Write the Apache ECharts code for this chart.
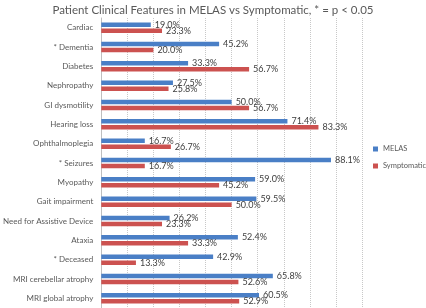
<!DOCTYPE html>
<html>
<head>
<meta charset="utf-8">
<script src="https://cdn.jsdelivr.net/npm/echarts@6/dist/echarts.min.js"></script>
<style>
  html, body { margin: 0; padding: 0; background: #fff; }
  #chart { width: 426px; height: 308px; }
</style>
</head>
<body>
<div id="chart"></div>
<script>
var categories = ['Cardiac', '* Dementia', 'Diabetes', 'Nephropathy', 'GI dysmotility', 'Hearing loss',
  'Ophthalmoplegia', '* Seizures', 'Myopathy', 'Gait impairment', 'Need for Assistive Device', 'Ataxia',
  '* Deceased', 'MRI cerebellar atrophy', 'MRI global atrophy']
var melas = [19.0, 45.2, 33.3, 27.5, 50.0, 71.4, 16.7, 88.1, 59.0, 59.5, 26.2, 52.4, 42.9, 65.8, 60.5]
var symptomatic = [23.3, 20.0, 56.7, 25.8, 56.7, 83.3, 26.7, 16.7, 45.2, 50.0, 23.3, 33.3, 13.3, 52.6, 52.9]

var chart = echarts.init(document.getElementById('chart'))

var label = {
  show: true,
  position: 'right',
  distance: 4,
  fontFamily: 'Lato',
  fontSize: 9,
  color: '#404040',
  formatter: function (p) { return p.value.toFixed(1) + '%' }
}

chart.setOption({
  animation: false,
  textStyle: { fontFamily: 'Lato' },
  title: {
    text: 'Patient Clinical Features in MELAS vs Symptomatic, * = p < 0.05',
    left: 'center',
    top: -1,
    textStyle: { fontFamily: 'Lato', fontSize: 11.5, fontWeight: 'normal', color: '#595959' }
  },
  legend: {
    orient: 'vertical',
    left: 368,
    top: 140,
    itemWidth: 5,
    itemHeight: 5,
    itemGap: 9,
    icon: 'rect',
    textStyle: { fontFamily: 'Lato', fontSize: 7.5, color: '#595959' },
    data: ['MELAS', 'Symptomatic']
  },
  grid: { left: 90, top: 18, width: 272, height: 292 },
  xAxis: {
    type: 'value',
    min: 0,
    max: 100,
    interval: 10,
    axisLabel: { show: false },
    axisLine: { show: false },
    axisTick: { show: false },
    splitLine: { lineStyle: { color: '#c8c8c8', type: 'dotted', width: 1 } }
  },
  yAxis: {
    type: 'category',
    inverse: true,
    data: categories,
    axisLine: { show: true, lineStyle: { color: '#bfbfbf' } },
    axisTick: { show: false },
    axisLabel: { fontFamily: 'Lato', fontSize: 8, color: '#595959', margin: 8 }
  },
  series: [
    {
      name: 'MELAS',
      type: 'bar',
      data: melas,
      barWidth: 4.5,
      barGap: '35%',
      itemStyle: { color: '#4a7fc6' },
      label: label
    },
    {
      name: 'Symptomatic',
      type: 'bar',
      data: symptomatic,
      barWidth: 4.5,
      itemStyle: { color: '#cc5250' },
      label: label
    }
  ]
})
</script>
</body>
</html>
